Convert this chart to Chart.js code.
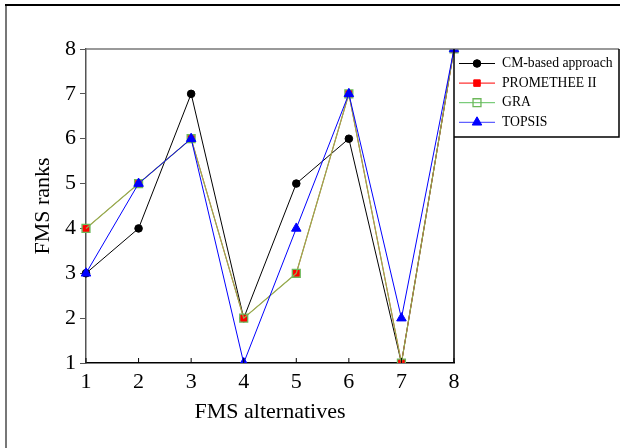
<!DOCTYPE html>
<html>
<head>
<meta charset="utf-8">
<script src="https://cdn.jsdelivr.net/npm/chart.js@4"></script>
<style>
  html, body { margin: 0; padding: 0; background: #fff; }
  #wrap { width: 620px; height: 448px; }
</style>
</head>
<body>
<div id="wrap"><canvas id="c" width="620" height="448"></canvas></div>
<script>
const alternatives = ['1', '2', '3', '4', '5', '6', '7', '8'];
const cmRanks = [3, 4, 7, 2, 5, 6, 1, 8];
const prometheeRanks = [4, 5, 6, 2, 3, 7, 1, 8];
const graRanks = [4, 5, 6, 2, 3, 7, 1, 8];
const topsisRanks = [3, 5, 6, 1, 4, 7, 2, 8];
const rankTicks = [1, 2, 3, 4, 5, 6, 7, 8];

const serif = '"Liberation Serif", "Times New Roman", serif';

// frame, top/right borders and the legend box
const framePlugin = {
    id: 'frame',
    beforeDraw(chart) {
        const ctx = chart.ctx;
        ctx.save();
        ctx.fillStyle = '#fff';
        ctx.fillRect(0, 0, chart.width, chart.height);
        ctx.lineWidth = 2;
        ctx.strokeStyle = '#777';
        ctx.beginPath();
        ctx.moveTo(6, 5);
        ctx.lineTo(6, chart.height);
        ctx.stroke();
        ctx.strokeStyle = '#000';
        ctx.beginPath();
        ctx.moveTo(5, 5);
        ctx.lineTo(chart.width, 5);
        ctx.stroke();
        ctx.restore();
    },
    afterDraw(chart) {
        const ctx = chart.ctx;
        const a = chart.chartArea;
        ctx.save();
        ctx.lineWidth = 1.5;
        ctx.strokeStyle = '#777';
        ctx.beginPath();
        ctx.moveTo(a.left, a.top);
        ctx.lineTo(chart.width - 1, a.top);
        ctx.stroke();
        ctx.strokeStyle = '#000';
        ctx.beginPath();
        ctx.moveTo(a.right, a.top);
        ctx.lineTo(a.right, a.bottom);
        ctx.stroke();

        // x ticks point into the plot
        const xs = chart.scales.x;
        ctx.lineWidth = 1;
        alternatives.forEach((lab, i) => {
            const px = xs.getPixelForValue(i);
            ctx.beginPath();
            ctx.moveTo(px, a.bottom);
            ctx.lineTo(px, a.bottom - 5);
            ctx.stroke();
        });

        // legend box
        const lx = a.right, ly = a.top, lw = chart.width - 1 - a.right, lh = 88;
        ctx.lineWidth = 1.5;
        ctx.beginPath();
        ctx.moveTo(lx, ly + lh);
        ctx.lineTo(lx + lw, ly + lh);
        ctx.lineTo(lx + lw, ly);
        ctx.stroke();

        ctx.font = '13.7px ' + serif;
        ctx.textBaseline = 'middle';
        chart.data.datasets.forEach((ds, i) => {
            const y = ly + 14.5 + i * 19.6;
            ctx.lineWidth = 1;
            ctx.strokeStyle = ds.legendColor;
            ctx.beginPath();
            ctx.moveTo(lx + 5, y);
            ctx.lineTo(lx + 41, y);
            ctx.stroke();
            ctx.save();
            ctx.fillStyle = ds.pointBackgroundColor;
            ctx.strokeStyle = ds.pointBorderColor;
            ctx.lineWidth = ds.pointBorderWidth || 1;
            Chart.helpers.drawPoint(ctx, {
                pointStyle: ds.pointStyle,
                radius: ds.pointRadius,
                borderWidth: ds.pointBorderWidth || 1
            }, lx + 23, y);
            ctx.restore();
            ctx.fillStyle = '#000';
            ctx.fillText(ds.label, lx + 48, y);
        });
        ctx.restore();
    }
};

new Chart(document.getElementById('c'), {
    type: 'line',
    data: {
        labels: alternatives,
        datasets: [
            {
                label: 'CM-based approach',
                data: cmRanks,
                borderColor: '#000',
                legendColor: '#000',
                borderWidth: 1,
                pointStyle: 'circle',
                pointRadius: 3.8,
                pointBackgroundColor: '#000',
                pointBorderColor: '#000',
                order: 4
            },
            {
                label: 'PROMETHEE II',
                data: prometheeRanks,
                borderColor: '#ff0000',
                legendColor: '#ff0000',
                borderWidth: 1,
                pointStyle: 'rect',
                pointRadius: 4.6,
                pointBackgroundColor: '#ff0000',
                pointBorderColor: '#ff0000',
                order: 3
            },
            {
                label: 'GRA',
                data: graRanks,
                borderColor: 'rgba(130,200,90,0.85)',
                legendColor: '#5cc05c',
                borderWidth: 1.2,
                pointStyle: 'rect',
                pointRadius: 5.6,
                pointBackgroundColor: 'rgba(0,0,0,0)',
                pointBorderColor: '#6db85a',
                pointBorderWidth: 1.3,
                order: 2
            },
            {
                label: 'TOPSIS',
                data: topsisRanks,
                borderColor: '#0000ff',
                legendColor: '#3a3aff',
                borderWidth: 1,
                pointStyle: 'triangle',
                pointRadius: 5.5,
                pointBackgroundColor: '#0000ff',
                pointBorderColor: '#0000ff',
                order: 1
            }
        ]
    },
    options: {
        responsive: false,
        animation: false,
        tension: 0,
        layout: { padding: { left: 26, top: 49, right: 166, bottom: 19 } },
        plugins: {
            legend: { display: false },
            tooltip: { enabled: false }
        },
        scales: {
            x: {
                offset: false,
                afterFit(scale) { scale.height = 66; },
                grid: {
                    display: false,
                    drawOnChartArea: false,
                    drawTicks: false
                },
                border: { display: true, color: '#000', width: 1.5 },
                ticks: {
                    color: '#000',
                    padding: 6,
                    maxRotation: 0,
                    font: { family: serif, size: 22 }
                },
                title: {
                    display: true,
                    text: 'FMS alternatives',
                    color: '#000',
                    font: { family: serif, size: 22 }
                }
            },
            y: {
                min: 1,
                max: 8,
                afterFit(scale) { scale.width = 60; },
                afterBuildTicks(scale) { scale.ticks = rankTicks.map(v => ({ value: v })); },
                grid: {
                    display: true,
                    drawOnChartArea: false,
                    drawTicks: true,
                    tickLength: 6,
                    color: '#555'
                },
                border: { display: true, color: '#555', width: 1.5 },
                ticks: {
                    color: '#000',
                    padding: 4,
                    font: { family: serif, size: 22 }
                },
                title: {
                    display: true,
                    text: 'FMS ranks',
                    color: '#000',
                    font: { family: serif, size: 22 }
                }
            }
        }
    },
    plugins: [framePlugin]
});
</script>
</body>
</html>
